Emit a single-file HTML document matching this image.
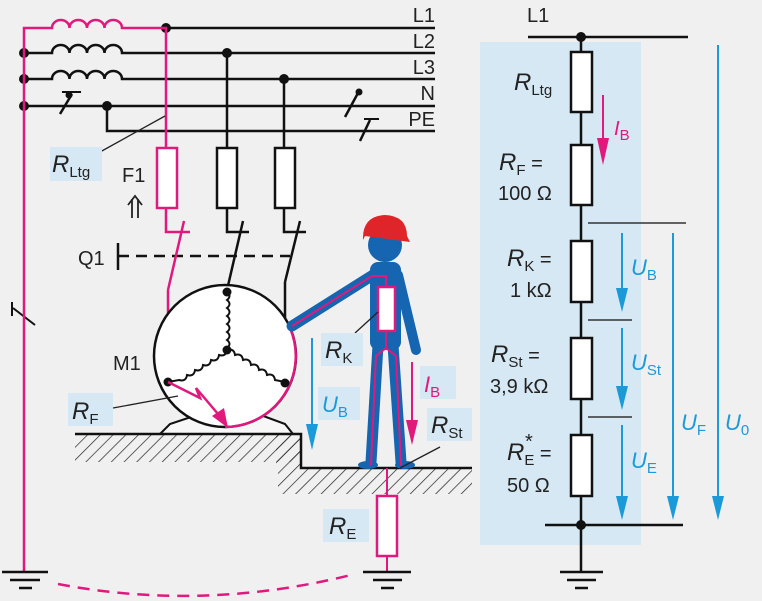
<!DOCTYPE html>
<html><head><meta charset="utf-8"><style>
html,body{margin:0;padding:0;background:#f0f0f0}
svg{display:block}
text{font-family:"Liberation Sans","DejaVu Sans",sans-serif}
</style></head><body>
<svg width="762" height="601" viewBox="0 0 762 601" xmlns="http://www.w3.org/2000/svg">
<defs>
<pattern id="h" width="9" height="9" patternUnits="userSpaceOnUse" patternTransform="rotate(45)"><line x1="0" y1="0" x2="0" y2="9" stroke="#222" stroke-width="1.4"/></pattern>
</defs>
<rect width="762" height="601" fill="#f0f0f0"/>
<!-- right panel -->
<rect x="480" y="42" width="161" height="503" fill="#d6e8f3"/>
<g stroke="#111" stroke-width="2.5" fill="none">
<line x1="528" y1="37" x2="688" y2="37"/>
<line x1="581" y1="37" x2="581" y2="572"/>
<line x1="545" y1="525" x2="683" y2="525"/>
<line x1="560" y1="572" x2="603" y2="572"/><line x1="567" y1="580" x2="596" y2="580"/><line x1="575" y1="588" x2="588" y2="588"/>
</g>
<g stroke="#333" stroke-width="1.5"><line x1="588" y1="223" x2="686" y2="223"/><line x1="588" y1="320" x2="632" y2="320"/><line x1="588" y1="417" x2="632" y2="417"/></g>
<g fill="#fff" stroke="#111" stroke-width="2.5">
<rect x="571" y="52" width="21" height="60"/><rect x="571" y="145" width="21" height="60"/><rect x="571" y="241" width="21" height="61"/><rect x="571" y="338" width="21" height="61"/><rect x="571" y="435" width="21" height="61"/>
</g>
<circle cx="581" cy="37" r="5" fill="#111"/><circle cx="581" cy="525" r="5" fill="#111"/>
<g font-size="20" fill="#222">
<text x="527" y="22">L1</text>
<text x="514" y="90"><tspan font-style="italic" font-size="24">R</tspan><tspan font-size="15" dy="5">Ltg</tspan></text>
<text x="499" y="170"><tspan font-style="italic" font-size="24">R</tspan><tspan font-size="15" dy="5">F</tspan><tspan dy="-5"> =</tspan></text>
<text x="498" y="200">100 Ω</text>
<text x="507" y="266"><tspan font-style="italic" font-size="24">R</tspan><tspan font-size="15" dy="5">K</tspan><tspan dy="-5"> =</tspan></text>
<text x="510" y="297">1 kΩ</text>
<text x="491" y="362"><tspan font-style="italic" font-size="24">R</tspan><tspan font-size="15" dy="5">St</tspan><tspan dy="-5"> =</tspan></text>
<text x="490" y="393">3,9 kΩ</text>
<text x="507" y="460"><tspan font-style="italic" font-size="24">R</tspan><tspan font-size="15" dy="5">E</tspan><tspan dy="-5"> =</tspan></text>
<text x="525" y="448" font-size="20">*</text>
<text x="507" y="492">50  Ω</text>
</g>
<line x1="603" y1="95" x2="603" y2="150" stroke="#e0197d" stroke-width="2"/><path d="M597,138 L609,138 L603,165z" fill="#e0197d"/>
<text x="614" y="135" fill="#e0197d" font-size="20"><tspan font-style="italic">I</tspan><tspan font-size="15" dy="5">B</tspan></text>
<g stroke="#1a9ad9" stroke-width="2">
<line x1="622" y1="233" x2="622" y2="295"/>
<line x1="622" y1="328" x2="622" y2="393"/>
<line x1="622" y1="425" x2="622" y2="503"/>
<line x1="673" y1="233" x2="673" y2="503"/>
<line x1="718" y1="45" x2="718" y2="503"/>
</g>
<g fill="#1a9ad9">
<path d="M616,288 L628,288 L622,312z"/>
<path d="M616,386 L628,386 L622,410z"/>
<path d="M616,496 L628,496 L622,520z"/>
<path d="M667,496 L679,496 L673,520z"/>
<path d="M712,496 L724,496 L718,520z"/>
</g>
<g fill="#1a9ad9" font-size="22" font-style="italic">
<text x="631" y="275">U<tspan font-style="normal" font-size="15" dy="5">B</tspan></text>
<text x="631" y="370">U<tspan font-style="normal" font-size="15" dy="5">St</tspan></text>
<text x="631" y="468">U<tspan font-style="normal" font-size="15" dy="5">E</tspan></text>
<text x="681" y="430">U<tspan font-style="normal" font-size="15" dy="5">F</tspan></text>
<text x="725" y="430">U<tspan font-style="normal" font-size="15" dy="5">0</tspan></text>
</g>

<!-- left network -->
<g stroke="#111" stroke-width="2.5" fill="none">
<line x1="166" y1="28" x2="435" y2="28"/>
<path d="M24,53 H52 a8.75,8 0 0 1 17.5,0 a8.75,8 0 0 1 17.5,0 a8.75,8 0 0 1 17.5,0 a8.75,8 0 0 1 17.5,0 H435"/>
<path d="M24,79 H52 a8.75,8 0 0 1 17.5,0 a8.75,8 0 0 1 17.5,0 a8.75,8 0 0 1 17.5,0 a8.75,8 0 0 1 17.5,0 H435"/>
<line x1="24" y1="106" x2="435" y2="106"/>
<path d="M107,106 V131 H435"/>
<line x1="60" y1="114" x2="72" y2="94"/><line x1="62" y1="92" x2="81" y2="92" stroke-width="2"/>
<line x1="345" y1="117" x2="358" y2="93"/>
<line x1="360" y1="141" x2="370" y2="120"/><line x1="364" y1="119" x2="379" y2="119" stroke-width="2"/>
<line x1="227" y1="53" x2="227" y2="148"/><line x1="284" y1="79" x2="284" y2="148"/>
<path d="M227,208 V232 H249"/><path d="M284,208 V232 H306"/>
<line x1="243" y1="221" x2="227" y2="290"/><line x1="300" y1="221" x2="285" y2="282"/>
<line x1="285" y1="282" x2="285" y2="380"/>
<line x1="118" y1="243" x2="118" y2="270"/><line x1="118" y1="256" x2="290" y2="256" stroke-dasharray="11,7"/>
<line x1="13" y1="308" x2="35" y2="325" stroke-width="2"/><line x1="12" y1="302" x2="12" y2="316" stroke-width="2"/>
</g>
<g fill="#111"><circle cx="166" cy="28" r="5"/><circle cx="24" cy="53" r="5"/><circle cx="24" cy="79" r="5"/><circle cx="24" cy="106" r="5"/><circle cx="107" cy="106" r="5"/><circle cx="227" cy="53" r="5"/><circle cx="284" cy="79" r="5"/><circle cx="69" cy="95" r="3.5"/><circle cx="359" cy="92" r="3.5"/></g>
<g fill="#fff" stroke="#111" stroke-width="2.5"><rect x="217" y="148" width="20" height="60"/><rect x="275" y="148" width="20" height="60"/></g>
<g stroke="#e0197d" stroke-width="2.5" fill="none">
<path d="M24,572 V28 H52 a8.75,8 0 0 1 17.5,0 a8.75,8 0 0 1 17.5,0 a8.75,8 0 0 1 17.5,0 a8.75,8 0 0 1 17.5,0 H166 V148"/>
<path d="M166,208 V232 H190"/><line x1="184" y1="221" x2="168" y2="290"/><line x1="168" y1="290" x2="168" y2="382"/>
<path d="M58,584 Q205,612 355,574" stroke-dasharray="12,8"/>
</g>
<rect x="157" y="148" width="20" height="60" fill="#fff" stroke="#e0197d" stroke-width="2.5"/>
<g font-size="20" fill="#222" text-anchor="end"><text x="435" y="22">L1</text><text x="435" y="48">L2</text><text x="435" y="74">L3</text><text x="435" y="100">N</text><text x="435" y="126">PE</text></g>
<line x1="165" y1="116" x2="100" y2="152" stroke="#222" stroke-width="1.3"/>
<rect x="50" y="147" width="52" height="34" fill="#d6e8f3"/>
<text x="52" y="172" font-size="20" fill="#222"><tspan font-style="italic" font-size="24">R</tspan><tspan font-size="15" dy="5">Ltg</tspan></text>
<text x="122" y="182" font-size="20" fill="#222">F1</text>
<g stroke="#222" stroke-width="1.8" fill="none"><path d="M128,205 L135,196 L142,205"/><line x1="132" y1="199" x2="132" y2="218"/><line x1="138" y1="199" x2="138" y2="218"/></g>
<text x="78" y="265" font-size="20" fill="#222">Q1</text>
<!-- motor -->
<path d="M160,434 L170,424 L200,414 L258,414 L285,424 L293,434z" fill="#f7f7f7" stroke="#111" stroke-width="2"/>
<circle cx="225" cy="356" r="71" fill="#fff" stroke="#111" stroke-width="2.5"/>
<path d="M290,328 A71,71 0 0 1 225,427" fill="none" stroke="#e0197d" stroke-width="2.5"/>
<g stroke="#111" stroke-width="2" fill="none">
<path d="M227,292 q5,4 0,8 q5,4 0,8 q5,4 0,8 q5,4 0,8 q5,4 0,8 q5,4 0,8 q5,4 0,8 V350"/>
<path d="M227,350 q-1,7 -8,5 q-1,7 -8,5 q-1,7 -8,5 q-1,7 -8,5 q-1,7 -8,5 q-1,7 -8,5 L168,382"/>
<path d="M227,350 q7,-2 8,5 q7,-2 8,5 q7,-2 8,5 q7,-2 8,5 q7,-2 8,5 q7,-2 8,5 L285,382"/>
</g>
<g fill="#111"><circle cx="227" cy="292" r="4.5"/><circle cx="227" cy="350" r="4.5"/><circle cx="168" cy="382" r="4.5"/><circle cx="285" cy="383" r="4.5"/></g>
<path d="M168,382 L200,398 L196,388 L218,414" stroke="#e0197d" stroke-width="2.5" fill="none"/><path d="M212,416 L224,408 L228,428z" fill="#e0197d"/>
<text x="113" y="370" font-size="20" fill="#222">M1</text>
<line x1="178" y1="396" x2="113" y2="408" stroke="#222" stroke-width="1.3"/>
<rect x="68" y="393" width="45" height="33" fill="#d6e8f3"/>
<text x="72" y="419" font-size="20" fill="#222"><tspan font-style="italic" font-size="24">R</tspan><tspan font-size="15" dy="5">F</tspan></text>
<!-- ground -->
<rect x="75" y="434" width="225" height="28" fill="url(#h)"/>
<rect x="278" y="468" width="194" height="26" fill="url(#h)"/>
<rect x="276" y="434" width="24" height="34" fill="url(#h)"/>
<path d="M75,434 H301 V468 H472" stroke="#111" stroke-width="2.5" fill="none"/>
<!-- person -->
<g fill="#1565b0" stroke="#1565b0" stroke-linecap="round" stroke-linejoin="round">
<circle cx="385" cy="245" r="17" stroke="none"/>
<rect x="370" y="262" width="31" height="88" rx="8" stroke="none"/>
<line x1="373" y1="275" x2="292" y2="326" stroke-width="11"/>
<line x1="398" y1="275" x2="416" y2="350" stroke-width="10"/>
<line x1="378" y1="345" x2="371" y2="462" stroke-width="11"/>
<line x1="393" y1="345" x2="401" y2="462" stroke-width="11"/>
<ellipse cx="368" cy="465" rx="10" ry="4" stroke="none"/><ellipse cx="405" cy="465" rx="10" ry="4" stroke="none"/>
</g>
<path d="M363,240 Q362,216 385,215 Q407,216 407,236 L410,242 L365,236z" fill="#e0252a"/>
<g stroke="#e0197d" stroke-width="2" fill="none">
<path d="M292,326 L372,276 H386 V290"/>
<path d="M386,330 V348 L376,356 L371,465"/><path d="M386,348 L396,356 L401,465"/>
<line x1="387" y1="468" x2="387" y2="497"/><line x1="387" y1="556" x2="387" y2="572"/>
</g>
<rect x="378" y="287" width="17" height="44" fill="#fff" stroke="#e0197d" stroke-width="2.5"/>
<rect x="377" y="496" width="20" height="60" fill="#fff" stroke="#e0197d" stroke-width="2.5"/>
<g stroke="#111" stroke-width="2.5"><line x1="363" y1="572" x2="411" y2="572"/><line x1="373" y1="580" x2="402" y2="580"/><line x1="381" y1="588" x2="394" y2="588"/>
<line x1="2" y1="572" x2="48" y2="572"/><line x1="10" y1="580" x2="40" y2="580"/><line x1="19" y1="588" x2="32" y2="588"/></g>
<line x1="378" y1="312" x2="355" y2="333" stroke="#222" stroke-width="1.3"/>
<rect x="321" y="333" width="42" height="33" fill="#d6e8f3"/>
<text x="325" y="358" font-size="20" fill="#222"><tspan font-style="italic" font-size="24">R</tspan><tspan font-size="15" dy="5">K</tspan></text>
<line x1="312" y1="338" x2="312" y2="430" stroke="#1a9ad9" stroke-width="2"/><path d="M306,424 L318,424 L312,450z" fill="#1a9ad9"/>
<rect x="318" y="387" width="42" height="33" fill="#d6e8f3"/>
<text x="322" y="412" font-size="22" font-style="italic" fill="#1a9ad9">U<tspan font-style="normal" font-size="15" dy="5">B</tspan></text>
<line x1="412" y1="362" x2="412" y2="430" stroke="#e0197d" stroke-width="2"/><path d="M406,420 L418,420 L412,445z" fill="#e0197d"/>
<rect x="420" y="366" width="36" height="33" fill="#d6e8f3"/>
<text x="424" y="392" font-size="22" fill="#e0197d"><tspan font-style="italic">I</tspan><tspan font-size="15" dy="5">B</tspan></text>
<rect x="427" y="408" width="45" height="33" fill="#d6e8f3"/>
<text x="431" y="433" font-size="20" fill="#222"><tspan font-style="italic" font-size="24">R</tspan><tspan font-size="15" dy="5">St</tspan></text>
<line x1="440" y1="447" x2="400" y2="468" stroke="#222" stroke-width="1.3"/>
<rect x="323" y="509" width="46" height="33" fill="#d6e8f3"/>
<text x="329" y="534" font-size="20" fill="#222"><tspan font-style="italic" font-size="24">R</tspan><tspan font-size="15" dy="5">E</tspan></text>
</svg>
</body></html>
